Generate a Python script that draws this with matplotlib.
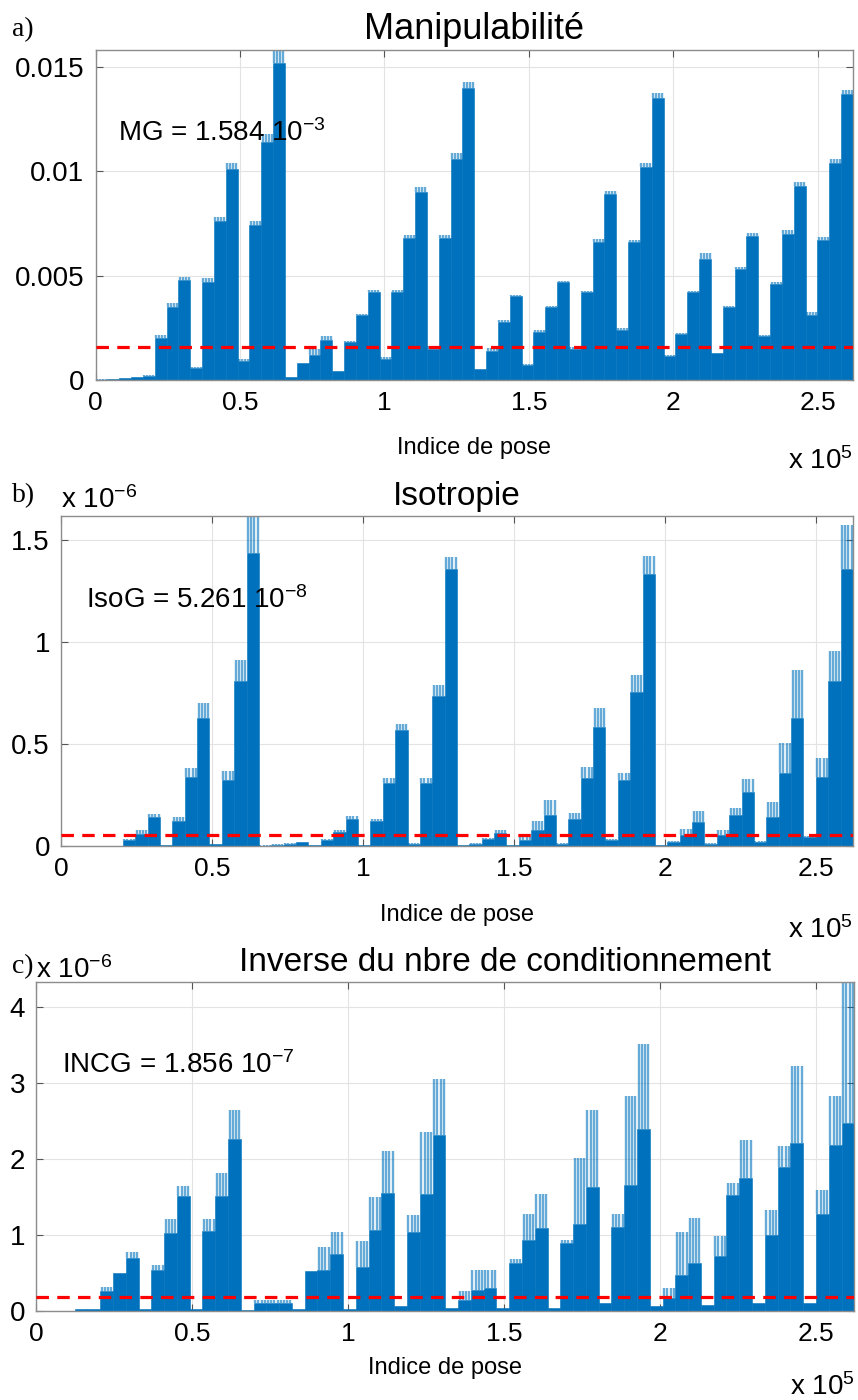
import numpy as np
import matplotlib
matplotlib.use("Agg")
import matplotlib.pyplot as plt

# Each curve is 64 blocks of 4096 poses (262144 poses in total).
# For each block: level of the dense band and height of the sparse spikes above it.
POSES_PER_BLOCK = 4096

mg_level = [0.00002, 0.00005, 0.00008, 0.00012, 0.0002, 0.0020, 0.0035, 0.0048,
            0.00056, 0.0047, 0.0076, 0.0101, 0.00093, 0.0074, 0.0114, 0.0152,
            0.00013, 0.0008, 0.0012, 0.0019, 0.00043, 0.0018, 0.0031, 0.0042,
            0.00099, 0.0042, 0.0068, 0.0090, 0.0015, 0.0068, 0.0106, 0.0140,
            0.00051, 0.0014, 0.0028, 0.0040, 0.00072, 0.0023, 0.0035, 0.0047,
            0.0015, 0.0042, 0.0066, 0.0089, 0.0024, 0.0066, 0.0102, 0.0135,
            0.00115, 0.0022, 0.0042, 0.0058, 0.0013, 0.0035, 0.0053, 0.0069,
            0.0021, 0.0046, 0.0070, 0.0093, 0.0031, 0.0067, 0.0104, 0.0137]
mg_peak = [0.00003, 0.00006, 0.0001, 0.00015, 0.00025, 0.00216, 0.00368, 0.00492,
           0.0006, 0.00487, 0.0078, 0.0104, 0.001, 0.0076, 0.0118, 0.0165,
           0.00015, 0.0008, 0.0015, 0.0021, 0.00045, 0.00187, 0.00316, 0.00431,
           0.0011, 0.0043, 0.00695, 0.00922, 0.00163, 0.00695, 0.01087, 0.01425,
           0.00055, 0.00152, 0.00288, 0.00407, 0.00075, 0.00237, 0.00356, 0.00476,
           0.00157, 0.00427, 0.00674, 0.00906, 0.00251, 0.00671, 0.01039, 0.01374,
           0.00118, 0.00227, 0.00428, 0.00607, 0.00131, 0.00356, 0.00543, 0.00706,
           0.00216, 0.00471, 0.00716, 0.0095, 0.00327, 0.00684, 0.01058, 0.0139]

# isotropie, in units of 1e-6
iso_level = [0, 0, 0, 0, 0.001, 0.028, 0.061, 0.143,
             0.003, 0.123, 0.339, 0.626, 0.008, 0.323, 0.807, 1.438,
             0.002, 0.007, 0.011, 0.02, 0.003, 0.028, 0.069, 0.134,
             0.005, 0.123, 0.307, 0.569, 0.011, 0.31, 0.733, 1.356,
             0.003, 0.011, 0.036, 0.066, 0.003, 0.028, 0.077, 0.151,
             0.011, 0.134, 0.331, 0.585, 0.028, 0.323, 0.757, 1.331,
             0.005, 0.02, 0.056, 0.118, 0.011, 0.052, 0.151, 0.266,
             0.02, 0.143, 0.356, 0.626, 0.044, 0.339, 0.807, 1.356]
iso_peak = [0, 0, 0, 0, 0.002, 0.035, 0.08, 0.159,
            0.004, 0.143, 0.38, 0.70, 0.01, 0.369, 0.913, 1.7,
            0.003, 0.008, 0.013, 0.022, 0.004, 0.032, 0.077, 0.146,
            0.006, 0.134, 0.331, 0.598, 0.013, 0.331, 0.79, 1.416,
            0.004, 0.013, 0.04, 0.077, 0.004, 0.044, 0.123, 0.225,
            0.013, 0.164, 0.389, 0.675, 0.032, 0.359, 0.839, 1.421,
            0.006, 0.024, 0.085, 0.172, 0.013, 0.077, 0.184, 0.326,
            0.024, 0.216, 0.507, 0.864, 0.05, 0.43, 0.954, 1.572]

# inverse du conditionnement, in units of 1e-6
incg_level = [0, 0, 0, 0.02, 0.026, 0.26, 0.5, 0.70,
              0.02, 0.54, 1.03, 1.51, 0.03, 1.05, 1.51, 2.26,
              0.01, 0.11, 0.11, 0.11, 0.02, 0.52, 0.54, 0.75,
              0.03, 0.58, 1.06, 1.55, 0.06, 1.04, 1.54, 2.32,
              0.04, 0.15, 0.28, 0.30, 0.04, 0.63, 0.94, 1.09,
              0.04, 0.89, 1.15, 1.63, 0.10, 1.11, 1.66, 2.39,
              0.06, 0.17, 0.48, 0.63, 0.08, 0.73, 1.53, 1.75,
              0.10, 1.00, 1.90, 2.21, 0.10, 1.28, 2.19, 2.48]
incg_peak = [0, 0, 0, 0.02, 0.03, 0.31, 0.5, 0.78,
             0.02, 0.60, 1.21, 1.65, 0.03, 1.21, 1.81, 2.65,
             0.01, 0.14, 0.14, 0.14, 0.02, 0.52, 0.84, 1.04,
             0.03, 0.92, 1.50, 2.10, 0.06, 1.27, 2.36, 3.05,
             0.04, 0.26, 0.54, 0.54, 0.04, 0.68, 1.28, 1.54,
             0.04, 0.93, 2.02, 2.65, 0.10, 1.28, 2.83, 3.52,
             0.06, 0.30, 1.04, 1.22, 0.08, 0.99, 1.68, 2.25,
             0.10, 1.33, 2.17, 3.23, 0.10, 1.59, 2.83, 4.4]

mg_mean = 1.584e-3
iso_mean = 5.261e-8 / 1e-6
incg_mean = 1.856e-7 / 1e-6

BLUE = "#0072BD"
FONT = "Liberation Sans"
plt.rcParams["font.family"] = [FONT, "DejaVu Sans"]
plt.rcParams["mathtext.fontset"] = "custom"
plt.rcParams["mathtext.rm"] = FONT
plt.rcParams["mathtext.it"] = FONT

fig = plt.figure(figsize=(8.58, 14), dpi=100)

n_total = POSES_PER_BLOCK * len(mg_level)
x_max = n_total / 1e5


def draw_panel(ax, level, peak, mean, ylim, yticks, yticklabels,
               xlab_y, xexp_y):
    left = np.arange(len(level)) * POSES_PER_BLOCK / 1e5
    w = POSES_PER_BLOCK / 1e5
    ax.bar(left, level, width=w, align="edge", color=BLUE, edgecolor=BLUE,
           linewidth=0.4, zorder=2)
    # sparse spikes above the dense band
    for x0, lo, hi in zip(left, level, peak):
        if hi > lo:
            xs = np.linspace(x0 + 0.12 * w, x0 + 0.88 * w, 4)
            ax.vlines(xs, lo, hi, color=BLUE, lw=1.7, alpha=0.6, zorder=2)
    ax.axhline(mean, color="#ff0000", lw=2.3, dashes=(3.9, 2.6), zorder=3)
    ax.set_xlim(0, x_max)
    ax.set_ylim(*ylim)
    ax.set_xticks([0, 0.5, 1, 1.5, 2, 2.5])
    ax.set_xticklabels(["0", "0.5", "1", "1.5", "2", "2.5"])
    ax.set_yticks(yticks)
    ax.set_yticklabels(yticklabels)
    ax.grid(True, color="#e3e3e3", lw=0.8, zorder=0)
    ax.set_axisbelow(True)
    for s in ax.spines.values():
        s.set_color("#8c8c8c")
        s.set_linewidth(1.0)
    ax.tick_params(direction="in", length=5, width=0.8, color="#555555",
                   top=True, right=True, labelsize=19, pad=8)
    ax.tick_params(axis="y", labelsize=20)
    ax.set_xlabel("Indice de pose", fontsize=17, va="center")
    ax.xaxis.set_label_coords(0.5, xlab_y)
    ax.text(1.0, xexp_y, r"x 10$^{5}$", transform=ax.transAxes, ha="right",
            va="center", fontsize=20)


# a) Manipulabilite
ax_a = fig.add_axes([95.5 / 858, 1 - 380 / 1400, 757.5 / 858, 330 / 1400])
draw_panel(ax_a, mg_level, mg_peak, mg_mean, (0, 0.0158),
           [0, 0.005, 0.01, 0.015], ["0", "0.005", "0.01", "0.015"],
           -0.205, -0.245)
ax_a.set_title("Manipulabilité", fontsize=26, pad=8)
ax_a.text(0.078, 0.0118, r"MG = 1.584 10$^{-3}$", fontsize=20, va="center")

# b) Isotropie
ax_b = fig.add_axes([61 / 858, 1 - 846 / 1400, 792 / 858, 330 / 1400])
draw_panel(ax_b, iso_level, iso_peak, iso_mean, (0, 1.617),
           [0, 0.5, 1, 1.5], ["0", "0.5", "1", "1.5"],
           -0.208, -0.255)
ax_b.set_title("Isotropie", fontsize=24, pad=8)
ax_b.text(0.082, 1.204, r"IsoG = 5.261 10$^{-8}$", fontsize=20, va="center")
ax_b.text(0.0, 1.005, r"x 10$^{-6}$", transform=ax_b.transAxes, ha="left",
          va="bottom", fontsize=20)

# c) Inverse du nombre de conditionnement
ax_c = fig.add_axes([36.3 / 858, 1 - 1311 / 1400, 818 / 858, 329 / 1400])
draw_panel(ax_c, incg_level, incg_peak, incg_mean, (0, 4.33),
           [0, 1, 2, 3, 4], ["0", "1", "2", "3", "4"],
           -0.172, -0.23)
ax_c.set_title("Inverse du nbre de conditionnement", fontsize=24, pad=8,
               x=0.573)
ax_c.text(0.081, 3.23, r"INCG = 1.856 10$^{-7}$", fontsize=20, va="center")
ax_c.text(0.0, 0.995, r"x 10$^{-6}$", transform=ax_c.transAxes, ha="left",
          va="bottom", fontsize=20)

# panel letters
for lab, y in [("a)", 30), ("b)", 496), ("c)", 967)]:
    fig.text(12 / 858, 1 - y / 1400, lab, fontsize=20, va="center",
             family="Liberation Serif")

fig.savefig("out.png", dpi=100)
